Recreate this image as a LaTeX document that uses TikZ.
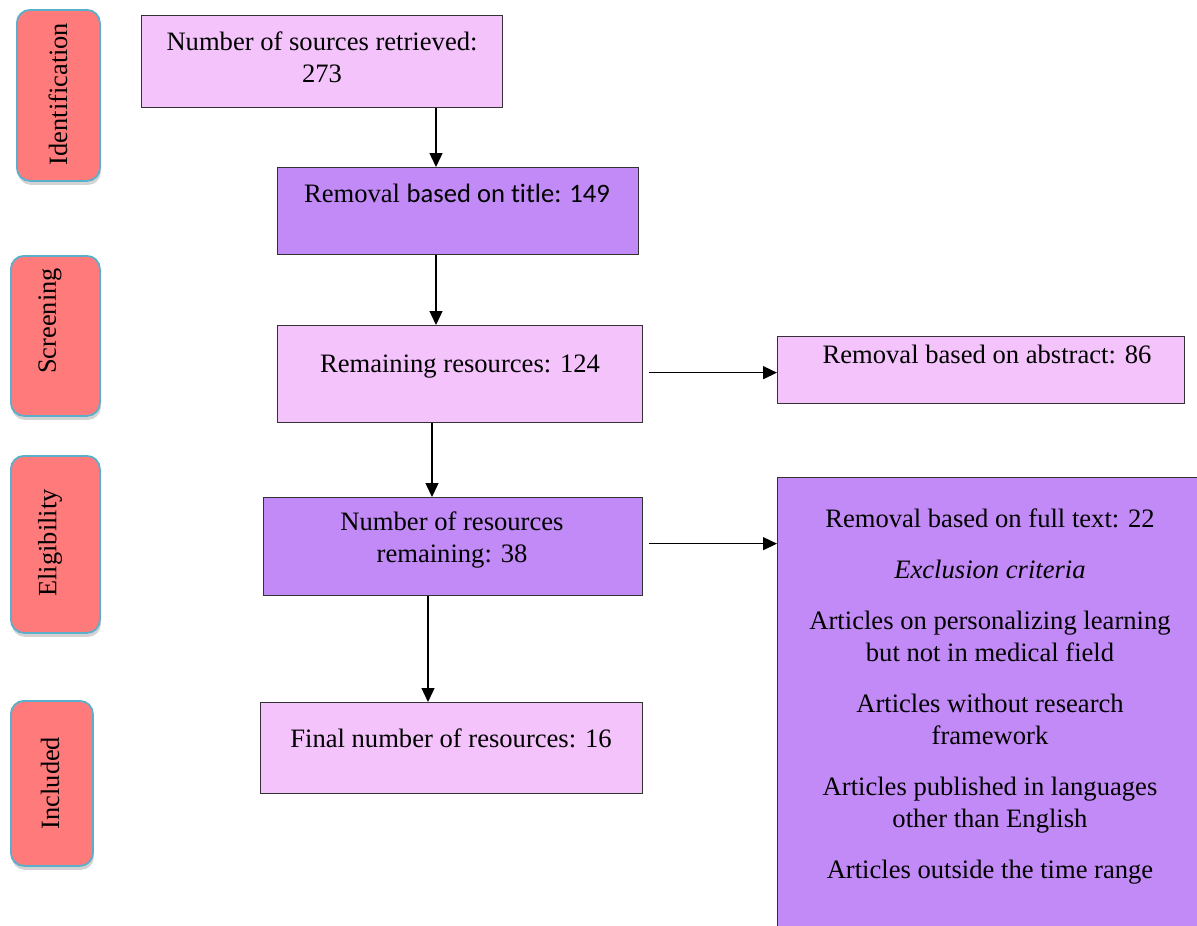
\documentclass[tikz,border=0pt]{standalone}
\usepackage{fontspec}
\setmainfont{Liberation Serif}
\newfontfamily\calibrifont[Ligatures=NoCommon]{Carlito}
\usetikzlibrary{arrows.meta,shadows}
\definecolor{lightv}{HTML}{F4C3FC}
\definecolor{darkv}{HTML}{C28AF6}
\definecolor{salmon}{HTML}{FF7A7A}
\definecolor{phaseedge}{HTML}{5AB0CC}
\tikzset{
  box/.style={draw=black!80, line width=1.3pt, anchor=north west, inner sep=0pt},
  lightbox/.style={box, fill=lightv},
  darkbox/.style={box, fill=darkv},
  phase/.style={draw=phaseedge, line width=1.8pt, fill=salmon, rounded corners=13pt,
    drop shadow={opacity=0.35, shadow xshift=1pt, shadow yshift=-4pt},
    anchor=north west, inner sep=0pt},
  txt/.style={font=\fontsize{26.6}{32}\selectfont, align=center, inner sep=0pt, anchor=north},
  ptxt/.style={font=\fontsize{26.4}{32}\selectfont, inner sep=0pt, rotate=90},
  arr/.style={-{Triangle[length=14pt,width=13pt]}, line width=1.4pt}
}
\begin{document}
\begin{tikzpicture}[x=1pt,y=-1pt]
\useasboundingbox (0,0) rectangle (1197,926);

% phase labels
\node[phase, minimum width=83pt, minimum height=171pt] (pid) at (16,9) {};
\node[ptxt] (tid) at (58,94) {Identification};
\node[phase, minimum width=89pt, minimum height=160pt] (pscr) at (10,255) {};
\node[ptxt] (tscr) at (50,321) {Screening};
\node[phase, minimum width=89pt, minimum height=177pt] (pel) at (10,455) {};
\node[ptxt] (tel) at (50,543) {Eligibility};
\node[phase, minimum width=82pt, minimum height=165pt] (pin) at (10,700) {};
\node[ptxt] (tin) at (50,783) {Included};

% boxes
\node[lightbox, minimum width=361pt, minimum height=92pt] (b1) at (141,15) {};
\node[darkbox, minimum width=361pt, minimum height=87pt] (b2) at (277,167) {};
\node[lightbox, minimum width=365pt, minimum height=97pt] (b3) at (277,325) {};
\node[lightbox, minimum width=407pt, minimum height=67pt] (b4) at (777,336) {};
\node[darkbox, minimum width=379pt, minimum height=98pt] (b5) at (263,497) {};
\node[darkbox, minimum width=430pt, minimum height=460pt] (b6) at (777,477) {};
\node[lightbox, minimum width=382pt, minimum height=91pt] (b7) at (260,702) {};

% texts
\node[txt] (t1) at (322,32) {Number of sources retrieved:\\273};
\node[txt] (t2) at (457,184) {Removal {\calibrifont based on title: 149}};
\node[txt] (t3) at (460,355) {Remaining resources: 124};
\node[txt] (t4) at (987,345) {Removal based on abstract: 86};
\node[txt] (t5) at (452,512) {Number of resources\\remaining: 38};
\node[txt] (t7) at (451,729) {Final number of resources: 16};
\node[txt] (t6) at (990,509) {Removal based on full text: 22\\[19pt]
  \textit{Exclusion criteria}\\[19pt]
  Articles on personalizing learning\\but not in medical field\\[19pt]
  Articles without research\\framework\\[19pt]
  Articles published in languages\\other than English\\[19pt]
  Articles outside the time range};

% connectors
\coordinate (ca) at (436,0);
\coordinate (cb) at (432,0);
\coordinate (cc) at (428,0);
\draw[arr] (b1.south -| ca) -- (b2.north -| ca);
\draw[arr] (b2.south -| ca) -- (b3.north -| ca);
\draw[arr] (b3.south -| cb) -- (b5.north -| cb);
\draw[arr] (b5.south -| cc) -- (b7.north -| cc);
\coordinate (h1) at ([xshift=6pt,yshift=1.5pt]b3.east);
\draw[arr] (h1) -- (b4.west |- h1);
\coordinate (h2) at ([xshift=6pt,yshift=3pt]b5.east);
\draw[arr] (h2) -- (b6.west |- h2);
\end{tikzpicture}
\end{document}
